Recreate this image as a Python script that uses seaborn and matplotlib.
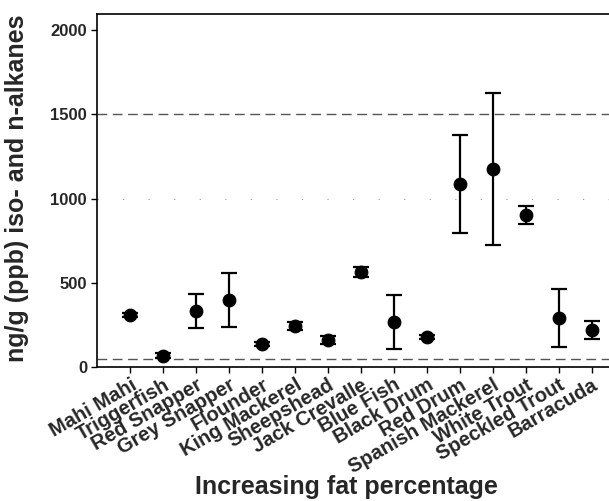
import numpy as np
import pandas as pd
import matplotlib
matplotlib.use("Agg")
import matplotlib.pyplot as plt
import seaborn as sns

fish = ["Mahi Mahi", "Triggerfish", "Red Snapper", "Grey Snapper", "Flounder",
        "King Mackerel", "Sheepshead", "Jack Crevalle", "Blue Fish", "Black Drum",
        "Red Drum", "Spanish Mackerel", "White Trout", "Speckled Trout", "Barracuda"]
mean_ppb = [308, 68, 333, 398, 136, 243, 160, 564, 267, 178, 1086, 1175, 902, 291, 220]
err_ppb = [10, 15, 103, 160, 12, 25, 25, 28, 160, 14, 290, 450, 53, 172, 55]
ref_lines = [50, 1500]

data = pd.DataFrame({"Fish": fish, "Mean": mean_ppb, "Err": err_ppb})

sns.set_style("white")
plt.rcParams["font.family"] = ["Liberation Sans", "DejaVu Sans"]
plt.rcParams["font.weight"] = "bold"

fig = plt.figure(figsize=(6.09, 5.01), dpi=100)
ax = fig.add_axes([0.159, 0.2675, 0.845, 0.7045])

for y in ref_lines:
    ax.axhline(y, color="#555555", linestyle=(0, (7, 4)), linewidth=1.0, zorder=1)
ax.axhline(1000, color="#999999", linestyle=(0, (1, 22)), linewidth=0.8, zorder=1)

pos = np.arange(len(fish))
ax.errorbar(pos, data["Mean"], yerr=data["Err"], fmt="none", ecolor="black",
            elinewidth=1.6, capsize=6, capthick=1.6, zorder=2)
sns.scatterplot(data=data, x="Fish", y="Mean", ax=ax, color="black", s=85,
                edgecolor="black", zorder=3, legend=False)

ax.set_xlim(-1.02, 14.6)
ax.set_ylim(0, 2095)
ax.set_yticks([0, 500, 1000, 1500, 2000])
ax.set_xticks(pos)
ax.set_xticklabels(fish, rotation=30, ha="right", rotation_mode="anchor",
                   fontsize=14.5, fontweight="bold")
for lab in ax.get_yticklabels():
    lab.set_fontsize(12)
    lab.set_fontweight("bold")
ax.tick_params(axis="both", direction="out", length=4, width=1, color="black",
               bottom=True, left=True)
ax.tick_params(axis="x", pad=2)
ax.tick_params(axis="y", pad=3)

ax.set_xlabel("Increasing fat percentage", fontsize=18, fontweight="bold")
ax.set_ylabel("ng/g (ppb) iso- and n-alkanes", fontsize=18, fontweight="bold")
ax.xaxis.label.set_va("baseline")
ax.xaxis.set_label_coords(0.486, -0.36)
ax.yaxis.label.set_va("center")
ax.yaxis.set_label_coords(-0.155, 0.505)

for s in ["left", "bottom", "top"]:
    ax.spines[s].set_color("black")
    ax.spines[s].set_linewidth(1.2)
ax.spines["right"].set_visible(False)

fig.savefig("out.png", dpi=100)
